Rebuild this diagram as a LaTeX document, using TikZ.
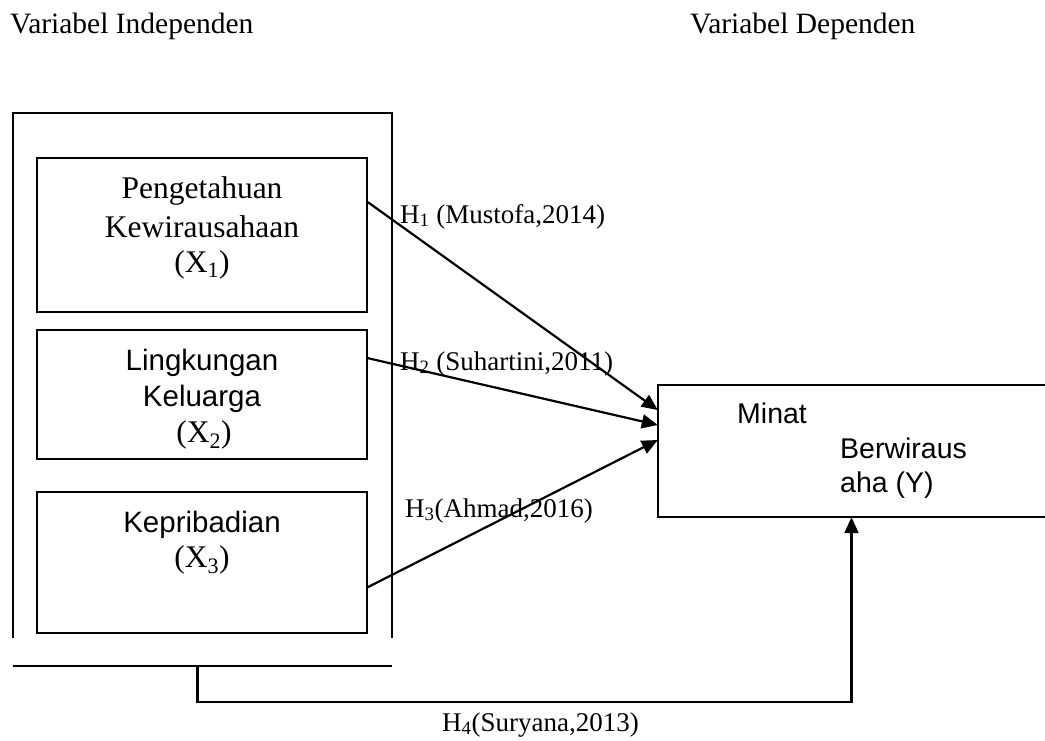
\documentclass[tikz,border=0pt]{standalone}
\usepackage{fontspec}
\setmainfont{Liberation Serif}
\newfontfamily\arialf{Liberation Sans}
\usetikzlibrary{arrows.meta}
\begin{document}
\begin{tikzpicture}[x=1pt,y=-1pt,
  box/.style={draw, line width=1.7pt, inner sep=0pt},
  line/.style={line width=1.7pt},
  arr/.style={line width=2.2pt, -{Triangle[length=16pt,width=14pt]}},
  tnr/.style={font=\fontsize{29.5}{36}\selectfont, inner sep=0pt, anchor=base},
  tnrbox/.style={font=\fontsize{31.5}{38}\selectfont, inner sep=0pt, anchor=base},
  ari/.style={font=\arialf\fontsize{28.5}{34}\selectfont, inner sep=0pt, anchor=base},
  aribox/.style={font=\arialf\fontsize{29.5}{35}\selectfont, inner sep=0pt, anchor=base},
  hlab/.style={font=\fontsize{27}{32}\selectfont, inner sep=0pt, anchor=base west}]
\useasboundingbox (0,0) rectangle (1045,740);

% titles
\node[tnr, anchor=base west] (tInd) at (10,33) {Variabel Independen};
\node[tnr, anchor=base west] (tDep) at (690,33) {Variabel Dependen};

% outer group frame
\node[minimum width=379pt, minimum height=553pt, inner sep=0pt] (G) at (202.5,389.5) {};
\draw[line] ([yshift=28pt]G.south west) -- (G.north west) -- (G.north east) -- ([yshift=28pt]G.south east);
\draw[line] (G.south west) -- (G.south east);

% independent boxes
\node[box, minimum width=330pt, minimum height=154pt] (X1) at (202,235) {};
\node[box, minimum width=330pt, minimum height=129pt] (X2) at (202,394.5) {};
\node[box, minimum width=330pt, minimum height=141pt] (X3) at (202,562.5) {};

\node[tnrbox] (x1a) at (202,198) {Pengetahuan};
\node[tnrbox] (x1b) at (202,237) {Kewirausahaan};
\node[tnrbox] (x1c) at (202,272) {(X\textsubscript{1})};

\node[aribox] (x2a) at (202,370) {Lingkungan};
\node[aribox] (x2b) at (202,406) {Keluarga};
\node[tnrbox] (x2c) at (204,442) {(X\textsubscript{2})};

\node[aribox] (x3a) at (202,532) {Kepribadian};
\node[tnrbox] (x3b) at (202,567) {(X\textsubscript{3})};

% dependent box (right edge runs off the page)
\node[minimum width=387pt, minimum height=132pt, inner sep=0pt] (Y) at (851.5,451) {};
\draw[line] (Y.north east) -- (Y.north west) -- (Y.south west) -- (Y.south east);
\node[ari, anchor=base west] (ya) at (737,423) {Minat};
\node[ari, anchor=base west] (yb) at (840,458) {Berwiraus};
\node[ari, anchor=base west] (yc) at (840,492) {aha (Y)};

% connectors
\coordinate (s1) at ([yshift=-45pt]X1.north east);
\coordinate (s2) at ([yshift=-29pt]X2.north east);
\coordinate (s3) at ([yshift=-96pt]X3.north east);
\coordinate (e1) at ([yshift=41pt]Y.west);
\coordinate (e2) at ([yshift=26pt]Y.west);
\coordinate (e3) at ([yshift=11pt]Y.west);
\draw[arr] (s1) -- (e1);
\draw[arr] (s2) -- (e2);
\draw[arr] (s3) -- (e3);
\draw[arr] ([xshift=-5pt]G.south) -- ++(0,36) -| (Y.south);

% hypothesis labels
\node[hlab] (h1) at (400,223) {H\textsubscript{1} (Mustofa,2014)};
\node[hlab] (h2) at (400,370) {H\textsubscript{2} (Suhartini,2011)};
\node[hlab] (h3) at (405,517) {H\textsubscript{3}(Ahmad,2016)};
\node[hlab] (h4) at (442,731) {H\textsubscript{4}(Suryana,2013)};
\end{tikzpicture}
\end{document}
